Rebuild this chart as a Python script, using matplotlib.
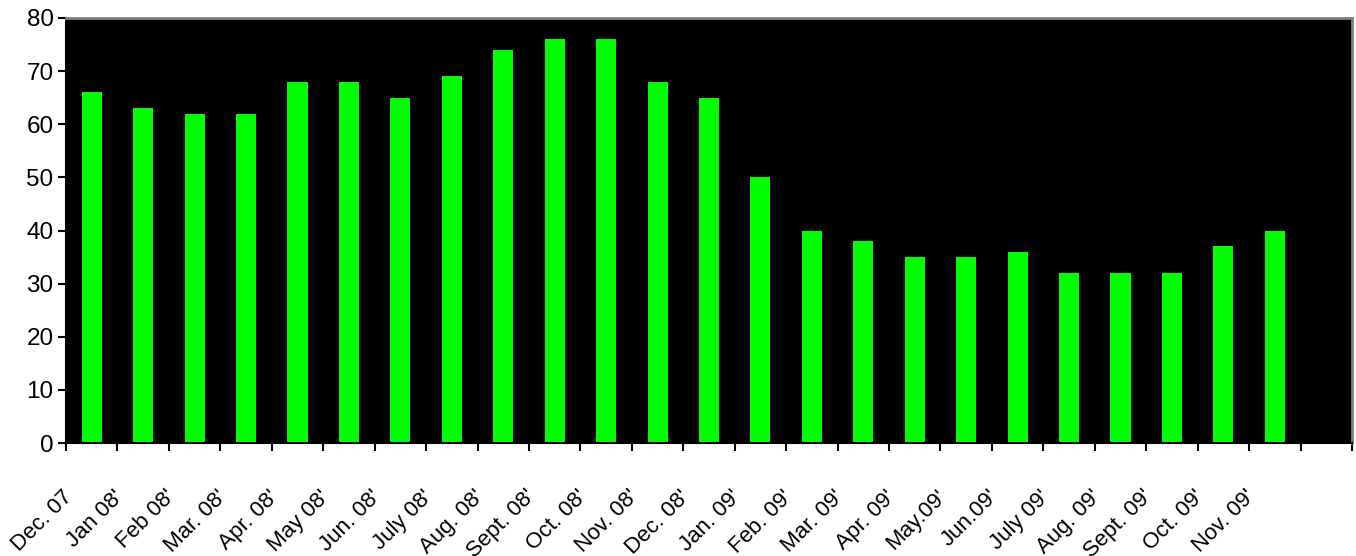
"""
Monthly bar chart, Dec 2007 - Nov 2009, green bars on black plot area (Excel style).
"""

import matplotlib.pyplot as plt
import matplotlib.transforms as mtransforms
from matplotlib import font_manager
import numpy as np

months = [
    "Dec. 07", "Jan 08'", "Feb 08'", "Mar. 08'", "Apr. 08'", "May 08'",
    "Jun. 08'", "July 08'", "Aug. 08'", "Sept. 08'", "Oct. 08'", "Nov. 08'",
    "Dec. 08'", "Jan. 09'", "Feb. 09'", "Mar. 09'", "Apr. 09'", "May.09'",
    "Jun.09'", "July 09'", "Aug. 09'", "Sept. 09'", "Oct. 09'", "Nov. 09'",
]
values = [66, 63, 62, 62, 68, 68, 65, 69, 74, 76, 76, 68,
          65, 50, 40, 38, 35, 35, 36, 32, 32, 32, 37, 40]

# one empty category slot is left at the right end, as in the original
n_slots = len(months) + 1

plt.rcParams["font.family"] = ["Liberation Sans", "DejaVu Sans"]

# the month labels look tightly set; use the narrow cut if it is installed
installed = {f.name for f in font_manager.fontManager.ttflist}
if "Liberation Sans Narrow" in installed:
    label_font, label_size = "Liberation Sans Narrow", 18
else:
    label_font, label_size = "Liberation Sans", 16


def plot():
    fig = plt.figure(figsize=(13.56, 5.56), dpi=100)
    fig.patch.set_facecolor("white")
    ax = fig.add_axes([66 / 1356, 1 - 443 / 556, (1352 - 66) / 1356, (443 - 18) / 556])
    ax.set_facecolor("black")

    x = np.arange(len(months))
    ax.bar(x, values, width=0.39, color="#00ff00", zorder=2)

    ax.set_xlim(-0.5, n_slots - 0.5)
    ax.set_ylim(0, 80)
    ax.set_yticks(range(0, 81, 10))

    # tick marks sit between categories; labels are drawn by hand, Excel style
    ax.set_xticks(np.arange(n_slots + 1) - 0.5)
    ax.set_xticklabels([])
    offset = mtransforms.ScaledTranslation(-0.30, -0.43, fig.dpi_scale_trans)
    trans = ax.get_xaxis_transform() + offset
    for xi, name in zip(x, months):
        ax.text(xi, 0, name, transform=trans, rotation=45, ha="right", va="top",
                rotation_mode="anchor", fontsize=label_size, clip_on=False,
                family=[label_font, "DejaVu Sans"])

    ax.tick_params(axis="x", length=6, width=1.5, direction="out")
    ax.tick_params(axis="y", length=6, width=1.5, direction="out", labelsize=17.5, pad=3)

    for side in ["top", "right"]:
        ax.spines[side].set_color("#808080")
        ax.spines[side].set_linewidth(2)
    for side in ["left", "bottom"]:
        ax.spines[side].set_color("black")
        ax.spines[side].set_linewidth(1.5)

    plt.savefig("out.png", dpi=100)


if __name__ == "__main__":
    plot()
